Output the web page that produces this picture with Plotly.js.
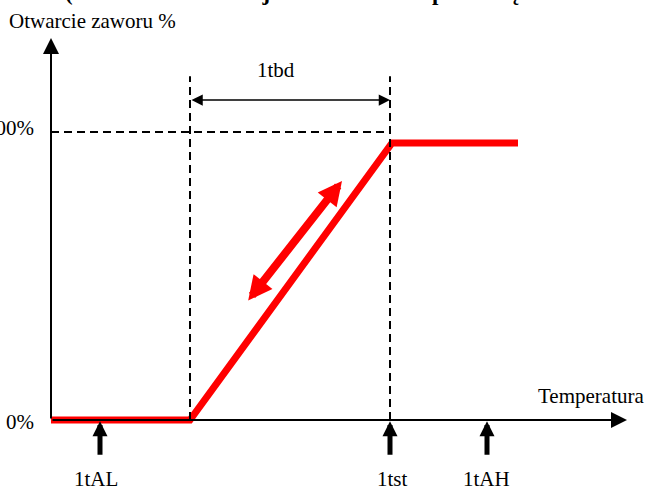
<!DOCTYPE html>
<html><head><meta charset="utf-8">
<script src="https://cdn.plot.ly/plotly-3.0.1.min.js"></script>
<style>html,body{margin:0;padding:0;background:#fff}</style>
</head><body>
<div id="chart" style="width:648px;height:486px"></div>
<script>
// Valve opening characteristic (temperature units arbitrary, opening in %)
const curveX = [0, 139, 341, 467];
const curveY = [0, 0, 96.2, 96.2];
const tbdStart = 139;          // start of proportional band
const tst = 339;               // set point 1tst
const tAL = 49;                // low alarm 1tAL
const tAH = 436;               // high alarm 1tAH
const fullOpen = 100;          // 100% level
const axisXEnd = 576;
const axisYEnd = 132.6;
const markerLabels = ['1tAL', '1tst', '1tAH'];
const markerPos = [tAL, tst, tAH];
const labelPos = [45, 341, 435];
const dblArrow = {x0: 196, y0: 41.0, x1: 291, y1: 83.0};

const font = {family: 'Liberation Serif, Times New Roman, serif', color: '#000'};
const F = (s, extra) => Object.assign({}, font, {size: s}, extra || {});

const shapes = [
  {type:'line', xref:'x', yref:'y', x0:tbdStart, x1:tbdStart, y0:0, y1:119.4, line:{color:'#000', width:2, dash:'8px,5px'}},
  {type:'line', xref:'x', yref:'y', x0:tst, x1:tst, y0:0, y1:119.4, line:{color:'#000', width:2, dash:'8px,5px'}},
  {type:'line', xref:'x', yref:'y', x0:0, x1:tst, y0:fullOpen, y1:fullOpen, line:{color:'#000', width:2, dash:'8px,5px'}}
];

const annotations = [
  // axes
  {x:axisXEnd, y:0, ax:0, ay:0, axref:'x', ayref:'y', xref:'x', yref:'y', text:'', showarrow:true, arrowhead:2, arrowsize:1.6, arrowwidth:2, arrowcolor:'#000'},
  {x:0, y:axisYEnd, ax:0, ay:0, axref:'x', ayref:'y', xref:'x', yref:'y', text:'', showarrow:true, arrowhead:2, arrowsize:1.6, arrowwidth:2, arrowcolor:'#000'},
  // 1tbd dimension arrow
  {x:tst, y:111.1, ax:tbdStart, ay:111.1, axref:'x', ayref:'y', xref:'x', yref:'y', text:'', showarrow:true, arrowhead:2, arrowside:'end+start', arrowsize:1.5, arrowwidth:1.5, arrowcolor:'#000'},
  {x:225, y:(420-70)/2.88, xref:'x', yref:'y', text:'1tbd', showarrow:false, font:F(21)},
  // red double arrow
  {x:dblArrow.x1, y:dblArrow.y1, ax:dblArrow.x0, ay:dblArrow.y0, axref:'x', ayref:'y', xref:'x', yref:'y', text:'', showarrow:true, arrowhead:2, arrowside:'end+start', arrowsize:0.6, arrowwidth:8, arrowcolor:'#ff0000'},
  // texts
  {x:-44, y:(420-21)/2.88, xref:'x', yref:'y', xanchor:'left', text:'Otwarcie zaworu %', showarrow:false, font:F(21)},
  {x:-15, y:(420-128)/2.88, xref:'x', yref:'y', xanchor:'right', text:'100%', showarrow:false, font:F(21)},
  {x:-15, y:(420-422)/2.88, xref:'x', yref:'y', xanchor:'right', text:'0%', showarrow:false, font:F(21)},
  {x:595, y:(420-396)/2.88, xref:'x', yref:'y', xanchor:'right', text:'Temperatura', showarrow:false, font:F(21)},
  {x:292/648, y:1, xref:'paper', yref:'paper', xanchor:'center', yanchor:'bottom', yshift:-7, text:'<b>(sterowanie w funkcji sterowania temperaturą</b>', showarrow:false, font:F(23)}
];
markerPos.forEach((p, i) => {
  annotations.push({x:p, y:-0.4, ax:p, ay:-12.6, axref:'x', ayref:'y', xref:'x', yref:'y', text:'', showarrow:true, arrowhead:2, arrowsize:0.6, arrowwidth:5, arrowcolor:'#000'});
  annotations.push({x:labelPos[i], y:(420-479)/2.88, xref:'x', yref:'y', text:markerLabels[i], showarrow:false, font:F(21)});
});

const traces = [{
  x: curveX, y: curveY, type:'scatter', mode:'lines',
  line:{color:'#ff0000', width:7}, cliponaxis:false, hoverinfo:'skip'
}];

const layout = {
  width:648, height:486,
  margin:{l:0, r:0, t:0, b:0, pad:0},
  paper_bgcolor:'#fff', plot_bgcolor:'#fff',
  showlegend:false,
  xaxis:{range:[-51, 597], visible:false, fixedrange:true},
  yaxis:{range:[(420-486)/2.88, 420/2.88], visible:false, fixedrange:true},
  shapes: shapes,
  annotations: annotations
};
Plotly.newPlot('chart', traces, layout, {displayModeBar:false, staticPlot:true});
</script>
</body></html>
